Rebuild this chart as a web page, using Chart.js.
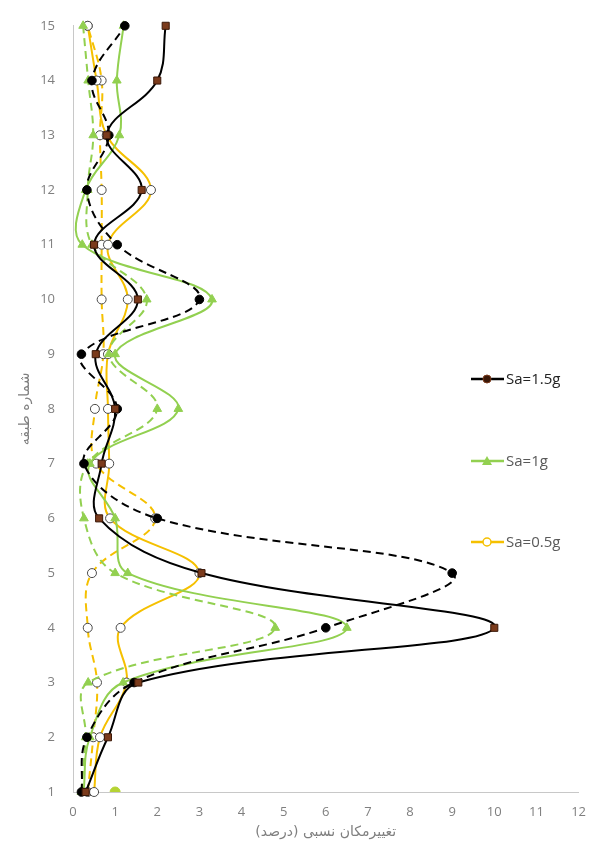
<!DOCTYPE html>
<html>
<head>
<meta charset="utf-8">
<script src="https://cdn.jsdelivr.net/npm/chart.js@4/dist/chart.umd.min.js"></script>
<style>
  html, body { margin: 0; padding: 0; background: #fff; }
  #wrap { width: 598px; height: 848px; }
</style>
</head>
<body>
<div id="wrap"><canvas id="chart" width="598" height="848"></canvas></div>
<script>
// storey numbers (y) and relative drift % (x)
var storeys = [1, 2, 3, 4, 5, 6, 7, 8, 9, 10, 11, 12, 13, 14, 15]

var sa15Solid = [0.3, 0.83, 1.55, 10.0, 3.05, 0.62, 0.68, 1.0, 0.54, 1.54, 0.5, 1.63, 0.8, 2.0, 2.2]
var sa15Dash  = [0.2, 0.33, 1.45, 6.0, 9.0, 2.0, 0.26, 1.05, 0.2, 3.0, 1.05, 0.33, 0.85, 0.45, 1.23]
var sa10Solid = [0.25, 0.4, 1.19, 6.5, 1.3, 1.0, 0.4, 2.5, 1.0, 3.3, 0.22, 0.3, 1.1, 1.04, 1.2]
var sa10Dash  = [0.2, 0.3, 0.36, 4.8, 1.0, 0.26, 0.35, 2.0, 0.85, 1.75, 0.45, 0.35, 0.48, 0.36, 0.24]
var sa05Solid = [0.5, 0.64, 1.27, 1.13, 3.0, 0.88, 0.86, 0.83, 0.83, 1.3, 0.83, 1.85, 0.8, 0.56, 0.35]
var sa05Dash  = [0.35, 0.48, 0.57, 0.35, 0.45, 1.95, 0.55, 0.52, 0.72, 0.68, 0.68, 0.68, 0.64, 0.68, 0.35]

// the lone point at storey 1
var strayX = [1.0]
var strayY = [1]

var legendLabels = ['Sa=1.5g', 'Sa=1g', 'Sa=0.5g']

var BLACK = '#000000'
var BROWN = '#7b3b1c'
var GREEN = '#92d050'
var GOLD = '#f5c000'

function pts(xs, ys){
  return xs.map(function(v, i){ return {x: v, y: ys[i]} })
}

function series(xs, color, dashed, extra){
  var ds = {
    data: pts(xs, storeys),
    showLine: true,
    borderColor: color,
    borderWidth: 2,
    borderDash: dashed ? [8, 5] : [],
    tension: 0.38,
    clip: false,
    pointRadius: 5,
    pointBorderWidth: 1
  }
  for (var k in extra) ds[k] = extra[k]
  return ds
}

// custom legend drawn inside the plot, like the original
var insideLegend = {
  id: 'insideLegend',
  afterDraw: function(chart){
    var ctx = chart.ctx
    var rows = [
      {y: 379, color: BLACK, text: '#222', draw: function(x, y){
        ctx.fillStyle = '#3a1808'; ctx.strokeStyle = BROWN; ctx.lineWidth = 1
        ctx.beginPath(); ctx.arc(x, y, 4, 0, Math.PI * 2); ctx.fill(); ctx.stroke()
      }},
      {y: 461, color: GREEN, text: '#595959', draw: function(x, y){
        ctx.fillStyle = GREEN
        ctx.beginPath(); ctx.moveTo(x, y - 5); ctx.lineTo(x + 5, y + 4); ctx.lineTo(x - 5, y + 4); ctx.closePath(); ctx.fill()
      }},
      {y: 542, color: GOLD, text: '#595959', draw: function(x, y){
        ctx.fillStyle = '#fff'; ctx.strokeStyle = GOLD; ctx.lineWidth = 1.5
        ctx.beginPath(); ctx.arc(x, y, 4, 0, Math.PI * 2); ctx.fill(); ctx.stroke()
      }}
    ]
    ctx.save()
    rows.forEach(function(r, i){
      ctx.strokeStyle = r.color
      ctx.lineWidth = 2.5
      ctx.beginPath(); ctx.moveTo(471, r.y); ctx.lineTo(504, r.y); ctx.stroke()
      r.draw(487, r.y)
      ctx.fillStyle = r.text
      ctx.font = '15px "Open Sans", sans-serif'
      ctx.textBaseline = 'middle'
      ctx.textAlign = 'left'
      ctx.fillText(legendLabels[i], 506, r.y + 1)
    })
    ctx.restore()
  }
}

var data = {
  datasets: [
    series(sa15Solid, BLACK, false, {pointStyle: 'rect', pointBackgroundColor: BROWN, pointBorderColor: '#3a1808', pointRadius: 5, order: 1}),
    series(sa15Dash, BLACK, true, {pointStyle: 'circle', pointBackgroundColor: BLACK, pointBorderColor: BLACK, pointRadius: 4.3, order: 2}),
    series(sa10Solid, GREEN, false, {pointStyle: 'triangle', pointBackgroundColor: GREEN, pointBorderColor: GREEN, order: 3}),
    series(sa10Dash, GREEN, true, {pointStyle: 'triangle', pointBackgroundColor: GREEN, pointBorderColor: GREEN, order: 4}),
    series(sa05Solid, GOLD, false, {pointStyle: 'circle', pointBackgroundColor: '#fff', pointBorderColor: '#4a4a4a', pointRadius: 4.5, order: 5}),
    series(sa05Dash, GOLD, true, {pointStyle: 'circle', pointBackgroundColor: '#fff', pointBorderColor: '#4a4a4a', pointRadius: 4.5, order: 6}),
    {
      data: pts(strayX, strayY),
      showLine: false,
      pointRadius: 5,
      pointBackgroundColor: '#b5d334',
      pointBorderColor: '#b5d334',
      order: 0
    }
  ]
}

var tickFont = {family: '"Open Sans", "Liberation Sans", sans-serif', size: 13}
var titleFont = {family: '"DejaVu Sans", sans-serif', size: 14}

var config = {
  type: 'scatter',
  data: data,
  options: {
    responsive: false,
    animation: false,
    layout: {padding: {left: 6, right: 18, top: 19, bottom: 0}},
    elements: {line: {capBezierPoints: false}},
    plugins: {
      legend: {display: false},
      tooltip: {enabled: false}
    },
    scales: {
      x: {
        type: 'linear',
        min: 0,
        max: 12,
        ticks: {stepSize: 1, color: '#7f7f7f', font: tickFont, padding: 12},
        grid: {display: false, drawTicks: false},
        border: {display: true, color: '#c8c8c8', width: 1},
        title: {display: true, text: 'تغییرمکان نسبی (درصد)', color: '#7f7f7f', font: titleFont, padding: {top: 4, bottom: 7}},
        afterFit: function(s){ s.height = 56 }
      },
      y: {
        type: 'linear',
        min: 1,
        max: 15,
        ticks: {stepSize: 1, color: '#7f7f7f', font: tickFont, padding: 18},
        grid: {display: false, drawTicks: false},
        border: {display: true, color: '#c8c8c8', width: 1},
        title: {display: true, text: 'شماره طبقه', color: '#7f7f7f', font: titleFont, padding: {top: 11, bottom: 0}},
        afterFit: function(s){ s.width = 67 }
      }
    }
  },
  plugins: [insideLegend]
}

var chart = new Chart(document.getElementById('chart'), config)
</script>
</body>
</html>
